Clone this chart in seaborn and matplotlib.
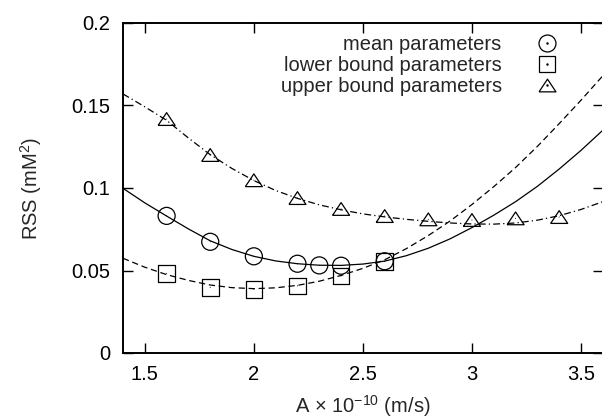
import numpy as np
import pandas as pd
import matplotlib
matplotlib.use("Agg")
import matplotlib.pyplot as plt
import seaborn as sns
from matplotlib.lines import Line2D
from matplotlib.legend_handler import HandlerTuple

# ---- data ----
fit_x = [1.4, 1.5, 1.6, 1.7, 1.8, 1.9, 2.0, 2.1, 2.2, 2.3, 2.4, 2.5,
         2.6, 2.7, 2.8, 2.9, 3.0, 3.1, 3.2, 3.3, 3.4, 3.5, 3.6]
mean_fit = [0.0998, 0.0910, 0.0830, 0.0752, 0.0680, 0.0627, 0.0586, 0.0558, 0.0541, 0.0532, 0.0531, 0.0539,
            0.0557, 0.0590, 0.0635, 0.0692, 0.0760, 0.0835, 0.0917, 0.1010, 0.1115, 0.1228, 0.1350]
lower_fit = [0.0574, 0.0520, 0.0475, 0.0440, 0.0412, 0.0396, 0.0390, 0.0395, 0.0410, 0.0435, 0.0470, 0.0513,
             0.0565, 0.0633, 0.0712, 0.0800, 0.0900, 0.1008, 0.1124, 0.1252, 0.1390, 0.1532, 0.1680]
upper_fit = [0.1570, 0.1492, 0.1410, 0.1303, 0.1202, 0.1118, 0.1045, 0.0985, 0.0937, 0.0898, 0.0868, 0.0843,
             0.0825, 0.0810, 0.0798, 0.0788, 0.0782, 0.0781, 0.0788, 0.0805, 0.0832, 0.0870, 0.0917]

mean_x = [1.6, 1.8, 2.0, 2.2, 2.3, 2.4, 2.6]
mean_y = [0.0831, 0.0674, 0.0586, 0.0541, 0.0531, 0.0529, 0.0556]
lower_x = [1.6, 1.8, 2.0, 2.2, 2.4, 2.6]
lower_y = [0.0483, 0.0398, 0.0386, 0.0407, 0.0467, 0.0555]
upper_x = [1.6, 1.8, 2.0, 2.2, 2.4, 2.6, 2.8, 3.0, 3.2, 3.4]
upper_y = [0.1418, 0.1200, 0.1047, 0.0939, 0.0873, 0.0830, 0.0810, 0.0806, 0.0816, 0.0824]

series_labels = ["mean parameters", "lower bound parameters", "upper bound parameters"]
x_ticks = [1.5, 2.0, 2.5, 3.0, 3.5]
x_tick_labels = ["1.5", "2", "2.5", "3", "3.5"]
y_ticks = [0.0, 0.05, 0.1, 0.15, 0.2]
y_tick_labels = ["0", "0.05", "0.1", "0.15", "0.2"]

# ---- style ----
sns.set_theme(style="ticks")
plt.rcParams['font.family'] = ['Liberation Sans', 'DejaVu Sans']
plt.rcParams['mathtext.fontset'] = 'custom'
plt.rcParams['mathtext.rm'] = 'Liberation Sans'
plt.rcParams['mathtext.it'] = 'Liberation Sans:italic'
FS = 14.5

fig = plt.figure(figsize=(6.02, 4.19), dpi=100)
ax = fig.add_axes([123/602, 1 - 353/419, (602.8 - 123)/602, (353 - 23)/419])

fits = pd.DataFrame({"x": fit_x, "mean": mean_fit, "lower": lower_fit, "upper": upper_fit})
lw = 0.9
sns.lineplot(data=fits, x="x", y="mean", ax=ax, color="black", linewidth=lw, linestyle="-")
sns.lineplot(data=fits, x="x", y="lower", ax=ax, color="black", linewidth=lw)
ax.lines[-1].set_dashes((5, 3))
sns.lineplot(data=fits, x="x", y="upper", ax=ax, color="black", linewidth=lw)
ax.lines[-1].set_dashes((5.5, 2.5, 1, 2.5))

tri = [(-1, -0.75), (1, -0.75), (0, 0.75), (-1, -0.75)]
markers = ["o", "s", tri]
ms = 150
for xs, ys, mk in zip([mean_x, lower_x, upper_x], [mean_y, lower_y, upper_y], markers):
    s = ms if mk != "s" else ms * 0.95
    sns.scatterplot(x=xs, y=ys, ax=ax, marker=mk, s=s, facecolor="none",
                    edgecolor="black", linewidth=0.9, zorder=3)
    sns.scatterplot(x=xs, y=ys, ax=ax, marker=".", s=2, color="black",
                    edgecolor="none", linewidth=0, zorder=4)

ax.set_xlim(1.4, 3.6)
ax.set_ylim(0, 0.2)
ax.set_xticks(x_ticks)
ax.set_xticklabels(x_tick_labels)
ax.set_yticks(y_ticks)
ax.set_yticklabels(y_tick_labels)
ax.tick_params(direction="in", length=7, width=1.0, top=True, right=True,
               labelsize=FS, pad=9, colors="black")
for sp in ax.spines.values():
    sp.set_linewidth(1.4)
    sp.set_color("black")

ax.set_xlabel(r"A $\times$ 10$^{\mathregular{-10}}$ (m/s)", fontsize=FS)
ax.set_ylabel(r"RSS (mM$^{\mathregular{2}}$)", fontsize=FS)
ax.xaxis.set_label_coords(0.5, -0.12)
ax.yaxis.set_label_coords(-0.165, 0.5)

handles = []
for mk in markers:
    h1 = Line2D([], [], linestyle="none", marker=mk, markersize=12.2 if mk != "s" else 11.8,
                markerfacecolor="none", markeredgecolor="black", markeredgewidth=0.9)
    h2 = Line2D([], [], linestyle="none", marker=".", markersize=1.5, color="black")
    handles.append((h1, h2))
leg = ax.legend(handles, series_labels, handler_map={tuple: HandlerTuple(ndivide=1)},
                loc="upper right", bbox_to_anchor=(0.93, 1.0), frameon=False,
                markerfirst=False, fontsize=FS, handlelength=1.0, handletextpad=1.75,
                labelspacing=0.1, borderpad=0.3, borderaxespad=0.3)

fig.savefig("out.png", dpi=100)
